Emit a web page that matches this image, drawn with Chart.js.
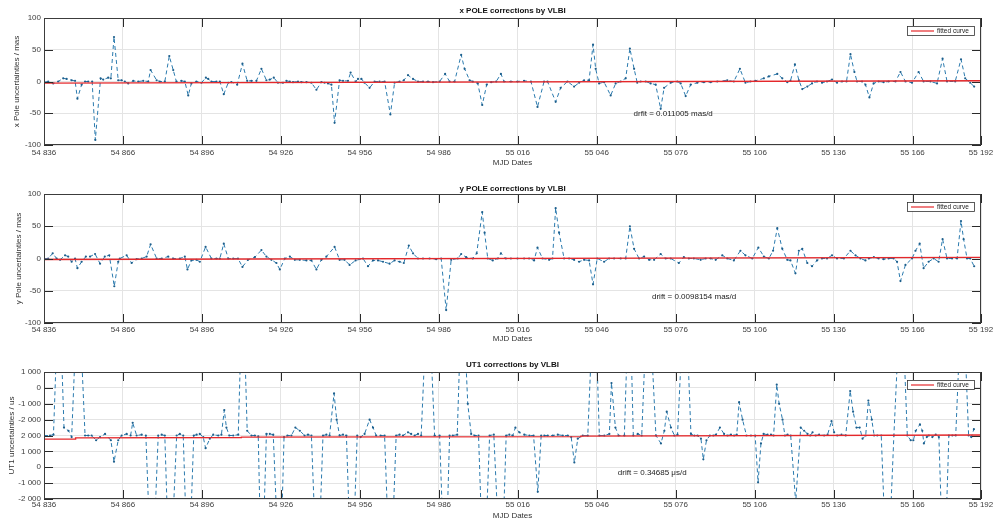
<!DOCTYPE html>
<html><head><meta charset="utf-8">
<script src="https://cdn.jsdelivr.net/npm/chart.js@4"></script>
<style>
html,body{margin:0;padding:0;background:#fff;}
#wrap{position:relative;width:998px;height:521px;overflow:hidden;background:#fff;}
canvas{position:absolute;left:0;}
</style></head><body>
<div id="wrap">
<canvas id="c1" width="998" height="172" style="top:0px"></canvas>
<canvas id="c2" width="998" height="178" style="top:172px"></canvas>
<canvas id="c3" width="998" height="171" style="top:350px"></canvas>
</div>
<script>
// ---------- axis ticks ----------
const xTickValues = [54836,54866,54896,54926,54956,54986,55016,55046,55076,55106,55136,55166,55192];
const xTickLabels = ['54 836','54 866','54 896','54 926','54 956','54 986','55 016','55 046','55 076','55 106','55 136','55 166','55 192'];
const poleTickLabels = ['-100','-50','0','50','100'];
const ut1TickLabels = ['-2 000','-1 000','0','1 000','2 000','-2 000','-1 000','0','1 000'];

// ---------- x POLE ----------
const xPoleDates = [
54836,54837.6,54839.5,54841.4,54843.3,54844.6,54846.5,54847.8,54848.7,54850.3,
54851.6,54852.8,54854.3,54855.5,54857.5,54858.5,54860.4,54861.4,54862.6,54864.2,
54865.5,54866.7,54868,54869.9,54871.8,54873.7,54875.6,54876.5,54878.8,54880,
54881.9,54883.6,54885.1,54886.3,54888.2,54889.5,54890.8,54892,54893.9,54895.8,
54897.5,54898.4,54899.6,54901.5,54902.8,54904.3,54906,54907.2,54909.4,54911.4,
54913.2,54914.8,54916.7,54918.6,54920.5,54921.8,54923.3,54924.9,54926.8,54928.1,
54929.4,54930.6,54932.5,54933.8,54935.7,54937.6,54939.5,54941.4,54942.6,54943.9,
54945.2,54946.4,54948.3,54949.6,54951.5,54952.5,54954.4,54955.3,54956.6,54957.8,
54959.7,54961.6,54963.5,54965.4,54967.6,54969.2,54971.1,54972.7,54974.3,54976.2,
54978.1,54980,54981.9,54983.8,54986.3,54988.4,54990.1,54992,54994.5,54995.8,
54997.7,54998.9,55000.8,55002.5,55004.2,55005.9,55007.8,55009.6,55010.8,55013.4,
55015.9,55018.4,55021,55023.5,55026,55027.3,55030.4,55032.3,55034.9,55037.4,
55039.3,55041.2,55043.1,55044.6,55045.6,55046.9,55048.8,55051.3,55053.2,55055.1,
55057,55058.6,55060.2,55061.4,55062.7,55064.6,55066.5,55068.4,55070.3,55071.6,
55074.1,55076.6,55077.9,55079.8,55081.7,55084.2,55086.7,55089.3,55091.8,55095.6,
55098.1,55100.4,55102.5,55104.4,55106.3,55109.5,55111.4,55114.6,55116.5,55118.4,
55119.6,55121.3,55122.8,55124.1,55126,55127.8,55129.7,55131.6,55133.5,55135.4,
55137.3,55139.2,55140.9,55142.4,55143.9,55144.9,55146.8,55148.1,55149.6,55151.2,
55153.1,55155,55156.9,55159.5,55161.4,55163.3,55165.8,55168.3,55170.2,55172.8,
55175.3,55177.4,55179.1,55182.2,55184.4,55186,55187.9,55189.4];
const xPoleValues = [
-1,0,-3,0,5,4,2,1,-27,-5,
0,0,0,-92,5,3,6,5,70,2,
2,0,-3,1,0,1,0,18,2,0,
0,40,18,0,1,0,-22,-3,0,-2,
6,4,0,0,0,-20,-2,-1,-5,28,
1,1,1,20,2,3,6,-2,-2,1,
0,-1,0,-1,-1,-2,-13,-1,-2,-3,
-5,-65,2,1,1,14,0,4,4,-2,
-10,0,0,0,-52,-2,0,2,10,4,
0,0,0,-1,0,12,0,0,42,20,
2,0,-3,-37,-5,-1,0,12,0,0,
0,1,0,-40,0,0,-32,-10,0,-8,
-2,2,2,58,20,-3,-1,-22,-3,0,
5,52,20,-2,0,0,-3,-5,-43,-10,
-2,0,-3,-23,-5,-2,-1,-1,0,2,
0,20,-2,0,1,5,8,12,5,-1,
1,27,2,-12,-8,-3,0,-2,0,3,
-2,0,0,43,15,0,0,-5,-25,-3,
0,-1,0,0,15,0,-2,15,0,0,
-3,36,0,0,35,5,-2,-8];
const xFitDates = [54836,55192];
const xFitValues = [-2.5,1.2];

// ---------- y POLE ----------
const yPoleDates = [
54836,54837.6,54839.3,54840.8,54842.1,54844,54845.2,54846.5,54847.8,54848.7,
54850.3,54851.9,54853.5,54855.4,54857.3,54859.1,54860.8,54862.7,54864.2,54864.8,
54867.4,54869.3,54871.2,54873.1,54875,54876.5,54878.8,54880.7,54883.2,54885.1,
54887.6,54889.5,54890.5,54892,54893.9,54895.2,54897.4,54899.6,54901.5,54902.8,
54904.3,54906,54907.9,54909.7,54911.4,54913.5,54916.1,54918.6,54920.5,54922.4,
54924.3,54925.6,54927.5,54929.4,54931.3,54933.2,54935.7,54937.6,54939.5,54941.4,
54943.3,54946.4,54948.3,54950.2,54952.1,54954.4,54957.2,54959.1,54961,54962.9,
54964.8,54967.3,54969.2,54971.1,54972.7,54974.6,54976.2,54978.1,54980,54982.5,
54985,54986.9,54988.8,54990.7,54993.2,54994.5,54996.4,54998.9,55000.4,55002.5,
55003.4,55004.6,55006.5,55008.4,55009.6,55011.5,55013.4,55015.9,55018.4,55020.3,
55022.2,55023.5,55025.4,55027.9,55029.2,55030.4,55031.7,55033.6,55035.5,55037.4,
55039.3,55041.2,55043.1,55044.6,55046.2,55048.8,55050.7,55052.6,55055.1,55057,
55058.6,55060.2,55062.1,55064,55065.9,55067.8,55070.3,55072.2,55074.1,55077.2,
55079.1,55081,55082.9,55085.5,55087.4,55089.3,55091.2,55093.7,55095.6,55098.1,
55100.6,55102.5,55105.1,55107.4,55109.5,55111.4,55113,55114.6,55116.5,55118.4,
55119.6,55121.5,55122.8,55124.1,55126,55127.8,55129.7,55131.6,55133.5,55135.4,
55137.3,55139.9,55142.4,55144.3,55146.2,55148.1,55149.4,55151.3,55153.1,55155,
55156.9,55158.8,55160.1,55161.4,55163.3,55165.8,55167.1,55168.7,55170.2,55172.1,
55174,55175.9,55177.4,55179.1,55181,55182.9,55184.4,55185.4,55186.7,55187.9,
55189.4];
const yPoleValues = [
0,0,8,0,-2,5,3,-5,0,-15,
-5,3,3,7,-8,3,5,-43,-5,0,
5,-7,-1,0,3,22,0,0,3,0,
0,3,-17,-3,-2,-5,18,0,0,0,
23,0,0,0,-13,-2,2,13,3,-2,
-7,-17,0,3,-2,-2,-3,-3,-17,-2,
3,18,-2,-2,-10,-3,0,-12,-3,-3,
-5,-8,-3,-5,-7,20,8,0,0,0,
-1,0,-80,-2,0,7,2,0,8,72,
40,0,-3,0,8,0,0,0,0,0,
-3,17,0,-2,0,78,40,0,0,-2,
-5,-2,-3,-40,0,-5,0,0,0,0,
50,15,0,3,-2,-2,7,0,0,-7,
2,0,0,-2,0,0,-2,5,0,-3,
12,5,0,17,3,0,12,47,15,-2,
-3,-23,12,15,-7,-12,-3,0,0,5,
0,0,12,5,0,-3,0,2,0,-1,
0,0,-5,-35,-10,0,12,23,-15,-5,
0,-5,30,0,0,0,58,30,0,0,
-12];
const yFitDates = [54836,55192];
const yFitValues = [-1.5,1.8];

// ---------- UT1 ----------
const ut1Dates = [
54836,54838.3,54839.6,54841.7,54843.6,54845.3,54846.5,54849,54851.6,54852.8,
54854.1,54855.8,54857.3,54859.2,54861.4,54862.6,54864.2,54865.5,54867.4,54868.9,
54869.7,54871.2,54873.1,54874.7,54877,54879.4,54880.7,54881.9,54883.8,54886.4,
54887.6,54888.9,54890.8,54892.9,54894,54895.2,54896.5,54897.4,54899,54900.3,
54902.2,54903.4,54904.5,54905.3,54906.4,54907.9,54909.8,54911.5,54913.2,54914.8,
54916.1,54917.4,54918.7,54920.5,54921.8,54923.1,54925.6,54927.2,54928.5,54930,
54931.5,54933.2,54935,54936.3,54937.6,54939.9,54942,54943.3,54944.5,54946.2,
54947.2,54948.3,54949.6,54950.9,54952.9,54955,54956.3,54957.8,54959.7,54961,
54962.2,54963.9,54965.4,54967.6,54969.8,54971.1,54972.4,54974.3,54975.5,54976.8,
54978.1,54979.3,54981.9,54984.4,54986.3,54988.4,54990.1,54991.3,54993,54994.9,
54997,54998.3,54999.6,55001.1,55003.1,55005.3,55006.9,55009.7,55011.6,55012.8,
55014.1,55015.1,55016.6,55018.5,55020.4,55022,55023.6,55024.9,55026.1,55027.4,
55029.3,55031.2,55033.1,55035,55036.3,55037.5,55038.8,55040.7,55042.6,55045.1,
55047,55048.9,55050.8,55051.6,55053.1,55054.3,55056.5,55058.4,55059.9,55061.6,
55063.1,55065.5,55068.5,55070.4,55071.7,55072.6,55074.2,55075.5,55076.7,55079.5,
55081.8,55083.1,55084.3,55085.6,55086.5,55087.7,55089,55090.3,55091.3,55092.8,
55094.4,55095.7,55097,55098.2,55099.2,55100.1,55101.4,55102.9,55104.6,55106.2,
55107.3,55108.4,55109.4,55110.9,55112.2,55113.2,55114.4,55115.3,55116.6,55117.5,
55118.5,55119.7,55121.6,55123.5,55124.8,55126.1,55127.1,55128,55129.2,55130.5,
55132.4,55133.7,55135.2,55136.2,55137.4,55139,55140.6,55142.3,55143.4,55144.7,
55145.9,55147,55148.2,55149.2,55150.5,55151.4,55152.6,55154.1,55156.4,55158.9,
55161.7,55164,55165.3,55166.3,55167.2,55168.8,55169.7,55170.3,55171.4,55172.2,
55173.5,55174.8,55176,55177.9,55179.8,55181.1,55182.4,55184.9,55187.3,55188.3,
55189.3];
const ut1Values = [
2000,2000,2050,12000,2500,2300,1900,12000,2000,2000,
2000,1700,1900,2100,1700,350,1700,2000,2100,2000,
2800,2000,2050,2000,-8000,2000,2050,2000,-8000,2000,
2100,2000,-8000,2000,2050,2100,1900,1200,1800,2050,
2000,2050,3600,2500,2000,2000,2050,12000,2300,2000,
2000,1950,-8000,2100,2100,2050,-8000,1900,2000,2000,
2500,2300,2000,2050,2000,-8000,2000,2050,2000,4650,
3000,2000,2050,2000,-8000,2000,1900,2100,3000,2500,
2000,2000,2000,-8000,2000,2050,2000,2200,2100,2000,
2100,2000,12000,2000,2000,-8000,2000,2000,2050,12000,
4000,2100,2000,2000,-8000,2000,2050,-8000,2000,2050,
2000,2500,2200,2050,2000,2000,-1550,2000,2000,2000,
2000,2050,2000,2000,1900,300,1800,2000,2000,12000,
2000,2000,2100,5300,2500,2000,2000,12000,2000,2100,
2000,12000,2000,1500,2300,3500,2500,2000,2050,12000,
2100,2000,2000,1800,500,1700,2000,2000,2050,2500,
2100,2000,2050,2000,2050,4100,3000,2000,2000,2000,
-950,1500,2100,2050,2050,2000,5200,4000,3000,2000,
2050,2000,-2200,2500,2300,2100,2000,2200,2000,2050,
2000,2050,2900,2200,2000,2050,2000,4800,3500,2500,
2500,1800,2000,4200,3000,2000,2000,2000,-8000,2000,
12000,2000,1700,1700,2300,2700,2300,1500,1900,2000,
1900,2050,1900,-8000,2000,2000,2000,12000,2000,1900,
2400];
const ut1FitDates = [54836,54848,54848,54911,54911,55040,55040,55192];
const ut1FitValues = [1770,1780,1850,1870,1900,1930,1960,2030];

// ---------- styling ----------
const FONT = "'Liberation Sans', Arial, Helvetica, sans-serif";
const BLUE = '#2a7aae';
const BLUE_PT = '#1d5f8c';
const RED = '#e4282b';
const GRIDC = '#e4e4e4';
const TICKC = '#404040';

const framePlugin = {
  id: 'matlabFrame',
  afterDatasetsDraw(chart, args, opts) {
    const {ctx, chartArea: a, scales} = chart;
    const L = 9;
    ctx.save();
    ctx.strokeStyle = '#2a2a2a';
    ctx.lineWidth = 1;
    ctx.beginPath();
    scales.x.ticks.forEach(t => {
      const px = Math.round(scales.x.getPixelForValue(t.value)) + 0.5;
      ctx.moveTo(px, a.bottom); ctx.lineTo(px, a.bottom - L);
      ctx.moveTo(px, a.top); ctx.lineTo(px, a.top + L);
    });
    scales.y.ticks.forEach(t => {
      const py = Math.round(scales.y.getPixelForValue(t.value)) + 0.5;
      ctx.moveTo(a.left, py); ctx.lineTo(a.left + L, py);
      ctx.moveTo(a.right, py); ctx.lineTo(a.right - L, py);
    });
    ctx.stroke();
    ctx.strokeStyle = '#3c3c3c';
    ctx.strokeRect(Math.round(a.left) + 0.5, Math.round(a.top) + 0.5,
                   Math.round(a.right - a.left) - 1, Math.round(a.bottom - a.top) - 1);
    if (opts.text) {
      ctx.fillStyle = '#222';
      ctx.font = '8px ' + FONT;
      ctx.textBaseline = 'middle';
      ctx.textAlign = 'left';
      ctx.fillText(opts.text, scales.x.getPixelForValue(opts.atX), scales.y.getPixelForValue(opts.atY));
    }
    // legend box (MATLAB style, inside plot, top right)
    const fit = chart.data.datasets[1];
    const w = 67, h = 9;
    const lx = Math.round(a.right - 7 - w), ly = Math.round(a.top + 8);
    ctx.fillStyle = '#fff';
    ctx.fillRect(lx, ly, w, h);
    ctx.strokeStyle = '#333';
    ctx.lineWidth = 0.8;
    ctx.strokeRect(lx + 0.5, ly + 0.5, w, h);
    ctx.strokeStyle = fit.borderColor;
    ctx.lineWidth = 1.2;
    ctx.beginPath();
    ctx.moveTo(lx + 4, ly + h / 2 + 0.5);
    ctx.lineTo(lx + 27, ly + h / 2 + 0.5);
    ctx.stroke();
    ctx.fillStyle = '#222';
    ctx.font = '6.5px ' + FONT;
    ctx.textBaseline = 'middle';
    ctx.textAlign = 'left';
    ctx.fillText(fit.label, lx + 30, ly + h / 2 + 1);
    ctx.restore();
  }
};

function pairs(ds, vs) { return ds.map((d, i) => ({x: d, y: vs[i]})); }

function makeChart(id, cfg) {
  return new Chart(document.getElementById(id), {
    type: 'line',
    data: {
      datasets: [
        { label: cfg.seriesLabel, data: pairs(cfg.dates, cfg.values),
          borderColor: BLUE, backgroundColor: BLUE, borderWidth: 1, borderDash: [4, 3],
          pointRadius: 1.1, pointBorderWidth: 0, pointBackgroundColor: BLUE_PT,
          tension: 0, order: 2 },
        { label: 'fitted curve', data: pairs(cfg.fitDates, cfg.fitValues),
          borderColor: RED, backgroundColor: RED, borderWidth: 1.4, pointRadius: 0,
          tension: 0, order: 1 }
      ]
    },
    options: {
      responsive: false, animation: false, devicePixelRatio: 1,
      layout: { padding: { left: 0, right: 17, top: 0, bottom: 0 } },
      plugins: {
        legend: { display: false },
        tooltip: { enabled: false },
        title: { display: true, text: cfg.title, color: '#111', fullSize: false,
                 font: { family: FONT, size: 8, weight: 'bold', lineHeight: 1.2 },
                 padding: { top: cfg.titleTop, bottom: cfg.titleBottom } },
        matlabFrame: { text: cfg.driftText, atX: cfg.driftX, atY: cfg.driftY }
      },
      scales: {
        x: {
          type: 'linear', min: 54836, max: 55192,
          afterBuildTicks: ax => { ax.ticks = xTickValues.map(v => ({ value: v })); },
          afterFit: ax => { ax.height = cfg.xAxisH; },
          ticks: { autoSkip: false, maxRotation: 0, minRotation: 0, padding: cfg.xTickPad,
                   color: TICKC, font: { family: FONT, size: 8 },
                   callback: (v, i) => xTickLabels[i] },
          grid: { color: GRIDC, drawTicks: false, lineWidth: 1 },
          border: { display: false },
          title: { display: true, text: 'MJD Dates', color: '#333',
                   font: { family: FONT, size: 8, lineHeight: 1.2 },
                   padding: { top: 0, bottom: cfg.xTitlePad } }
        },
        y: {
          type: 'linear', min: cfg.yMin, max: cfg.yMax,
          afterFit: ax => { ax.width = 44; },
          ticks: { stepSize: cfg.yStep, padding: 3, color: TICKC,
                   font: { family: FONT, size: 8 },
                   callback: (v, i) => cfg.yTickLabels[i] },
          grid: { color: GRIDC, drawTicks: false, lineWidth: 1 },
          border: { display: false },
          title: { display: true, text: cfg.yTitle, color: '#333',
                   font: { family: FONT, size: 8, lineHeight: 1.2 },
                   padding: { top: cfg.yTitlePad, bottom: 0 } }
        }
      }
    },
    plugins: [framePlugin]
  });
}

makeChart('c1', {
  title: 'x POLE corrections by VLBI', seriesLabel: 'x POLE',
  dates: xPoleDates, values: xPoleValues, fitDates: xFitDates, fitValues: xFitValues,
  yMin: -100, yMax: 100, yStep: 50, yTickLabels: poleTickLabels,
  yTitle: 'x Pole uncertainties / mas', yTitlePad: 11.7,
  titleTop: 6.2, titleBottom: 2.2, xAxisH: 27, xTickPad: 3, xTitlePad: 4,
  driftText: 'drfit = 0.011005 mas/d', driftX: 55060, driftY: -51
});
makeChart('c2', {
  title: 'y POLE corrections by VLBI', seriesLabel: 'y POLE',
  dates: yPoleDates, values: yPoleValues, fitDates: yFitDates, fitValues: yFitValues,
  yMin: -100, yMax: 100, yStep: 50, yTickLabels: poleTickLabels,
  yTitle: 'y Pole uncertainties / mas', yTitlePad: 13.5,
  titleTop: 11.5, titleBottom: 0.9, xAxisH: 27, xTickPad: 2, xTitlePad: 6.9,
  driftText: 'drift = 0.0098154 mas/d', driftX: 55067, driftY: -60
});
makeChart('c3', {
  title: 'UT1 corrections by VLBI', seriesLabel: 'UT1',
  dates: ut1Dates, values: ut1Values, fitDates: ut1FitDates, fitValues: ut1FitValues,
  yMin: -2000, yMax: 6000, yStep: 1000, yTickLabels: ut1TickLabels,
  yTitle: 'UT1 uncertainties / us', yTitlePad: 6.9,
  titleTop: 10.2, titleBottom: 2.2, xAxisH: 22, xTickPad: 1, xTitlePad: 0,
  driftText: 'drift = 0.34685 \u03bcs/d', driftX: 55054, driftY: -360
});
</script>
</body></html>
